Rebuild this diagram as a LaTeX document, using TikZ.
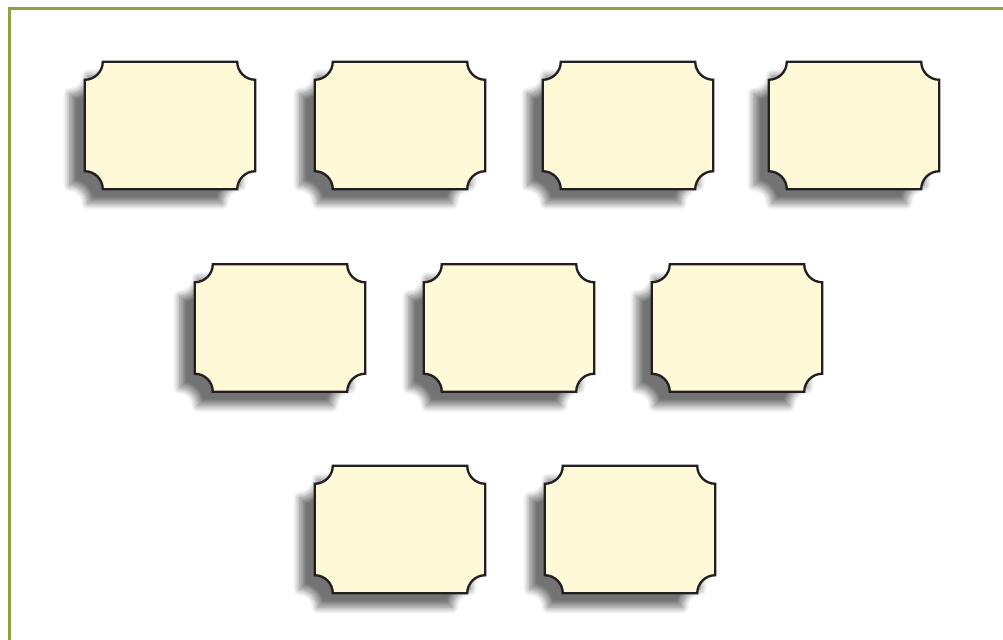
\documentclass[tikz,border=0pt]{standalone}
\usepackage{xcolor}
\usetikzlibrary{calc}
\usetikzlibrary{shadows.blur}
\def\scoop{0.54cm}
\definecolor{framegreen}{RGB}{143,161,62}
\definecolor{ticketfill}{RGB}{255,249,216}
\definecolor{ticketedge}{RGB}{35,31,32}
\tikzset{
  ticket/.style={minimum width=5.1cm, minimum height=3.81cm, inner sep=0pt},
  ticketline/.style={line width=0.07cm, draw=ticketedge, fill=ticketfill,
    blur shadow={shadow xshift=-0.45cm, shadow yshift=-0.42cm,
      shadow blur radius=0.2cm, shadow blur steps=12, shadow opacity=55}}
}
\newcommand{\drawticket}[1]{%
  \path[ticketline] ($(#1.north west)+(\scoop,0)$) -- ($(#1.north east)+(-\scoop,0)$)
    arc[start angle=180, end angle=270, radius=\scoop] -- ($(#1.south east)+(0,\scoop)$)
    arc[start angle=90, end angle=180, radius=\scoop] -- ($(#1.south west)+(\scoop,0)$)
    arc[start angle=0, end angle=90, radius=\scoop] -- ($(#1.north west)+(0,-\scoop)$)
    arc[start angle=270, end angle=360, radius=\scoop] -- cycle;}

\begin{document}
\begin{tikzpicture}[x = 0.03cm, y = 0.03cm]
        \useasboundingbox (0,0) rectangle (1003,639);

        \coordinate (frameSW) at (9,-10);
        \coordinate (frameNE) at (1015,630);
        \draw [line width=0.09cm,color=framegreen] (frameSW) |- (frameNE);

            % top row
            \node [ticket] (r1c1) at (170,513.5){};
            \node [ticket] (r1c2) at (400,513.5){};
            \node [ticket] (r1c3) at (628,513.5){};
            \node [ticket] (r1c4) at (854,513.5){};

            % middle row
            \node [ticket] (r2c1) at (280,311){};
            \node [ticket] (r2c2) at (509,311){};
            \node [ticket] (r2c3) at (737,311){};

            % bottom row
            \node [ticket] (r3c1) at (400,109.5){};
            \node [ticket] (r3c2) at (630,109.5){};

        \drawticket{r1c1} \drawticket{r1c2} \drawticket{r1c3} \drawticket{r1c4}
        \drawticket{r2c1} \drawticket{r2c2} \drawticket{r2c3}
        \drawticket{r3c1} \drawticket{r3c2}

\end{tikzpicture}
\end{document}
